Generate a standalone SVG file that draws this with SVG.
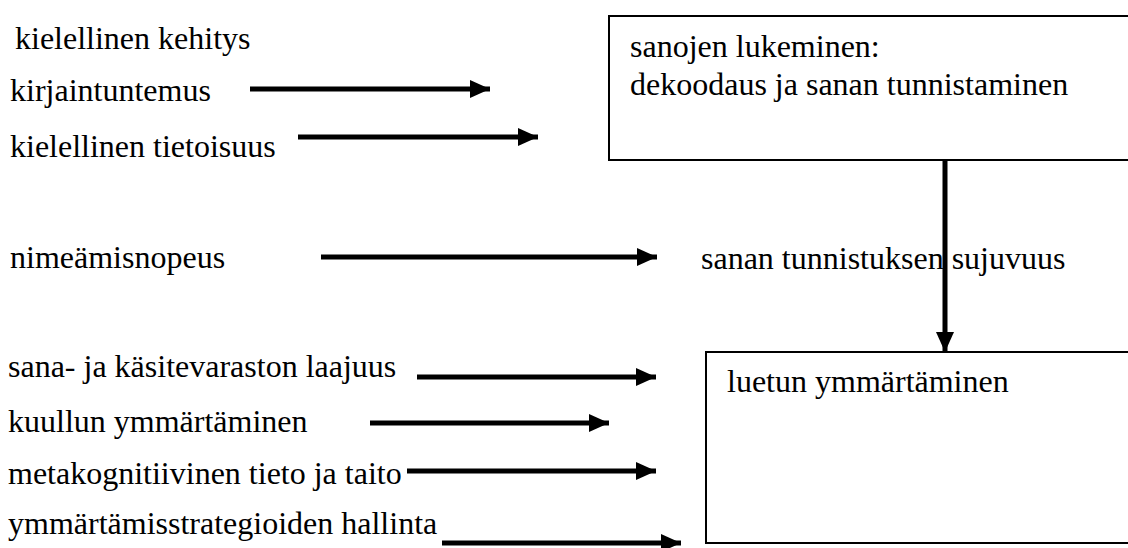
<svg xmlns="http://www.w3.org/2000/svg" width="1128" height="548" viewBox="0 0 1128 548">
<style>
text { font-family: "Liberation Serif", "Times New Roman", serif; font-size: 32px; fill: #000; }
.box { fill: #fff; stroke: #000; stroke-width: 2; }
.arr { stroke: #000; stroke-width: 5; fill: none; }
</style>
<defs>
<marker id="ah" markerUnits="userSpaceOnUse" markerWidth="20" markerHeight="18" refX="20" refY="9" orient="auto">
<path d="M0,0 L20,9 L0,18 Z" fill="#000"/>
</marker>
</defs>
<rect width="1128" height="548" fill="#fff"/>
<g id="node-box1">
<rect class="box" x="609" y="16" width="530" height="144"/>
<text x="630" y="57">sanojen lukeminen:</text>
<text x="630" y="95">dekoodaus ja sanan tunnistaminen</text>
</g>
<g id="node-box2">
<rect class="box" x="706" y="352" width="430" height="191"/>
<text x="727" y="392">luetun ymmärtäminen</text>
</g>
<g id="node-kehitys"><text x="15" y="49">kielellinen kehitys</text></g>
<g id="node-kirjain"><text x="10" y="101">kirjaintuntemus</text></g>
<g id="node-tietoisuus"><text x="10" y="157">kielellinen tietoisuus</text></g>
<g id="node-nimea"><text x="10" y="268">nimeämisnopeus</text></g>
<g id="node-sujuvuus"><text x="701" y="269">sanan tunnistuksen sujuvuus</text></g>
<g id="node-sana"><text x="8" y="377">sana- ja käsitevaraston laajuus</text></g>
<g id="node-kuullun"><text x="8" y="432">kuullun ymmärtäminen</text></g>
<g id="node-meta"><text x="8" y="484">metakognitiivinen tieto ja taito</text></g>
<g id="node-strat"><text x="8" y="534">ymmärtämisstrategioiden hallinta</text></g>
<g id="connectors">
<line class="arr" x1="250" y1="89" x2="490" y2="89" marker-end="url(#ah)"/>
<line class="arr" x1="298" y1="137" x2="538" y2="137" marker-end="url(#ah)"/>
<line class="arr" x1="321" y1="257" x2="657" y2="257" marker-end="url(#ah)"/>
<line class="arr" x1="945" y1="160" x2="945" y2="352" marker-end="url(#ah)"/>
<line class="arr" x1="417" y1="377" x2="656" y2="377" marker-end="url(#ah)"/>
<line class="arr" x1="370" y1="423" x2="609" y2="423" marker-end="url(#ah)"/>
<line class="arr" x1="407" y1="471" x2="656" y2="471" marker-end="url(#ah)"/>
<line class="arr" x1="442" y1="543" x2="681" y2="543" marker-end="url(#ah)"/>
</g>
</svg>
